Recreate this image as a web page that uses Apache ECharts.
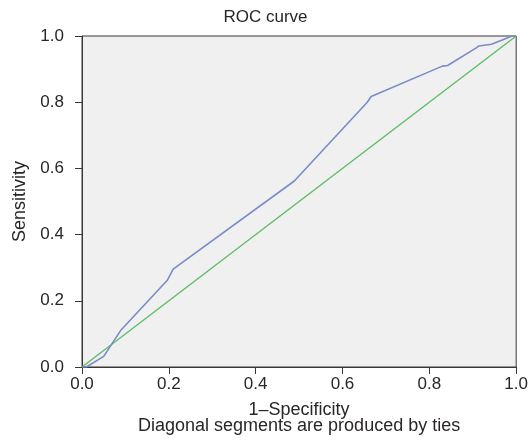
<!DOCTYPE html>
<html>
<head>
<meta charset="utf-8">
<script src="https://cdn.jsdelivr.net/npm/echarts@6/dist/echarts.min.js"></script>
<style>
html,body{margin:0;padding:0;background:#fff;}
#chart{width:531px;height:448px;}
</style>
</head>
<body>
<div id="chart"></div>
<script>
// ROC curve points
const fpr = [0, 0.01, 0.05, 0.09, 0.197, 0.21, 0.489, 0.657, 0.666, 0.83, 0.842, 0.909, 0.914, 0.943, 0.975, 0.99, 1];
const tpr = [0, 0, 0.032, 0.112, 0.263, 0.296, 0.562, 0.80, 0.817, 0.909, 0.911, 0.965, 0.97, 0.975, 0.992, 1, 1];
// Reference (chance) line
const refX = [0, 1];
const refY = [0, 1];
const tickValues = [0, 0.2, 0.4, 0.6, 0.8, 1.0];

const titleText = 'ROC curve';
const xName = '1–Specificity\nDiagonal segments are produced by ties';
const yName = 'Sensitivity';

const FONT = '"Liberation Sans", Arial, Helvetica, sans-serif';
const TXT = '#2a2627';
const AX = '#3b3637';

const chart = echarts.init(document.getElementById('chart'), null, {renderer: 'canvas'});
const axisCommon = {
  type: 'value', min: 0, max: 1, interval: 0.2,
  axisLine: {show: true, lineStyle: {color: AX, width: 1}},
  axisTick: {show: true, length: 7, lineStyle: {color: AX, width: 1}},
  splitLine: {show: false},
  axisLabel: {color: TXT, fontFamily: FONT, fontSize: 17, formatter: v => v.toFixed(1)},
  nameTextStyle: {color: TXT, fontFamily: FONT, fontSize: 18}
};
chart.setOption({
  animation: false,
  backgroundColor: '#ffffff',
  title: {
    text: titleText, left: 'center', top: 4,
    textStyle: {color: TXT, fontFamily: FONT, fontSize: 17, fontWeight: 'normal'}
  },
  grid: {
    left: 82, right: 13, top: 36, bottom: 81,
    show: true, backgroundColor: '#f0f0f0', borderColor: AX, borderWidth: 1
  },
  xAxis: Object.assign({}, axisCommon, {
    name: xName, nameLocation: 'middle', nameGap: 35,
    axisLabel: Object.assign({}, axisCommon.axisLabel, {margin: 9}),
    nameTextStyle: Object.assign({}, axisCommon.nameTextStyle, {lineHeight: 16})
  }),
  yAxis: Object.assign({}, axisCommon, {
    name: yName, nameLocation: 'middle', nameGap: 47,
    axisLabel: Object.assign({}, axisCommon.axisLabel, {margin: 18})
  }),
  series: [
    {
      type: 'line', symbol: 'none', silent: true,
      data: fpr.map((x, i) => [x, tpr[i]]),
      lineStyle: {color: '#7b8bc6', width: 1.6}, z: 3
    },
    {
      type: 'line', symbol: 'none', silent: true,
      data: refX.map((x, i) => [x, refY[i]]),
      lineStyle: {color: '#62bd6a', width: 1.5}, z: 2
    }
  ]
});
</script>
</body>
</html>
